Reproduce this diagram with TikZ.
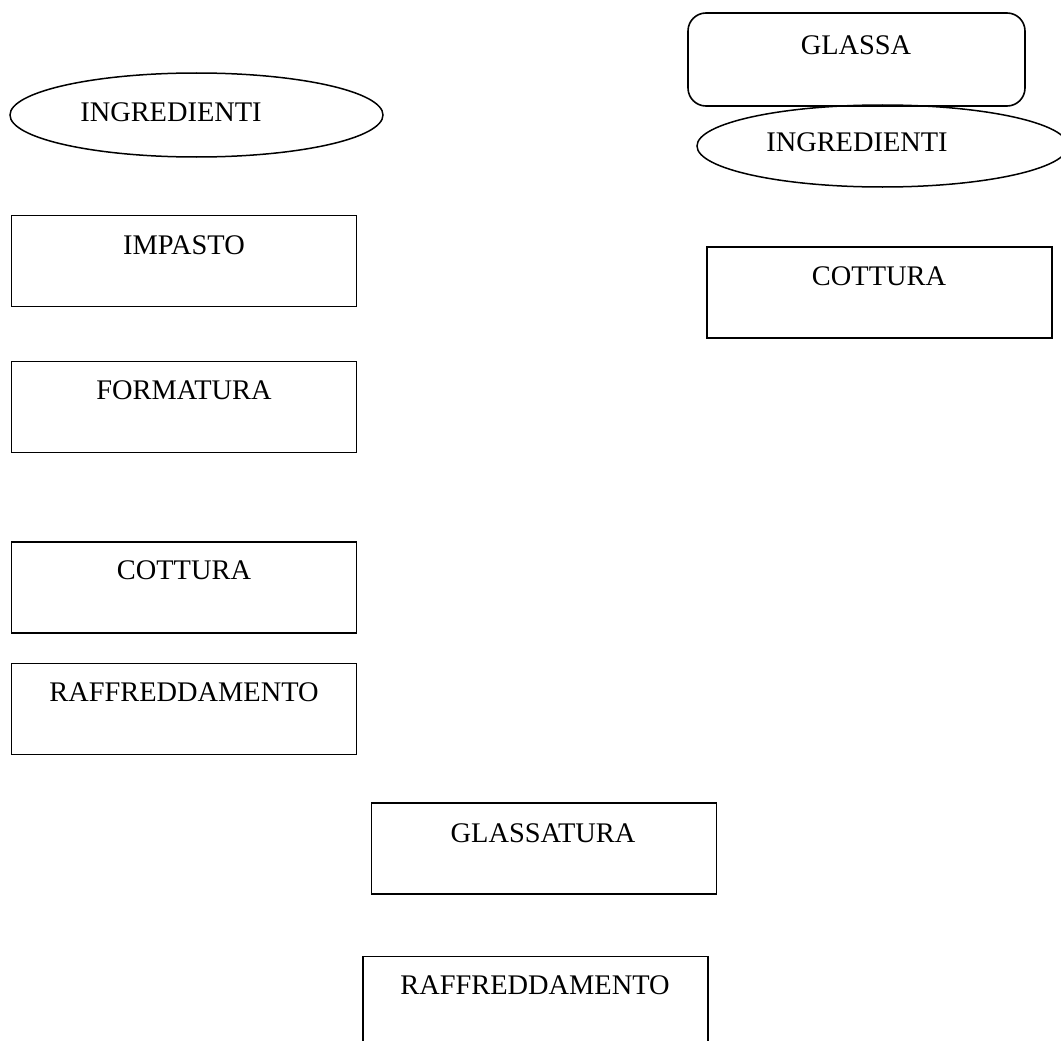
\documentclass[tikz,border=0pt]{standalone}
\usepackage{fontspec}
\setmainfont{Liberation Serif}
\usetikzlibrary{shapes.geometric}
\tikzset{
  stepbox/.style={draw=black, line width=1.6pt, rectangle, inner sep=0pt, minimum width=345pt, minimum height=91pt},
  roundbox/.style={stepbox, rounded corners=18pt, minimum width=337pt, minimum height=93pt},
  oval/.style={draw=black, line width=1.5pt, ellipse, inner sep=0pt},
  lbl/.style={inner sep=0pt, font=\fontsize{28.4}{34}\selectfont, anchor=center}
}
\begin{document}
\begin{tikzpicture}[x=1pt,y=-1pt]
\clip (0,0) rectangle (1061,1041);
\fill[white] (0,0) rectangle (1061,1041);
% left column
\node[oval, minimum width=373pt, minimum height=84pt] (ing1) at (196.5,115) {};
\node[lbl] (ing1t) at (171,112) {INGREDIENTI};
\node[stepbox] (imp) at (184,261) {};
\node[lbl] (impt) at (184,245) {IMPASTO};
\node[stepbox] (form) at (184,407) {};
\node[lbl] (formt) at (184,390) {FORMATURA};
\node[stepbox] (cot1) at (184,587.5) {};
\node[lbl] (cot1t) at (184,570) {COTTURA};
\node[stepbox] (raf1) at (184,709) {};
\node[lbl] (raf1t) at (184,692) {RAFFREDDAMENTO};
% right column
\node[roundbox] (glassa) at (856.5,59.5) {};
\node[lbl] (glassat) at (856,45) {GLASSA};
\node[oval, minimum width=371pt, minimum height=82pt] (ing2) at (882.5,146) {};
\node[lbl] (ing2t) at (857,142) {INGREDIENTI};
\node[stepbox] (cot2) at (879.5,292.5) {};
\node[lbl] (cot2t) at (879,276) {COTTURA};
% bottom
\node[stepbox] (glt) at (544,848.5) {};
\node[lbl] (gltt) at (543,833) {GLASSATURA};
\node[stepbox] (raf2) at (535.5,1002) {};
\node[lbl] (raf2t) at (535,985) {RAFFREDDAMENTO};
\end{tikzpicture}
\end{document}
